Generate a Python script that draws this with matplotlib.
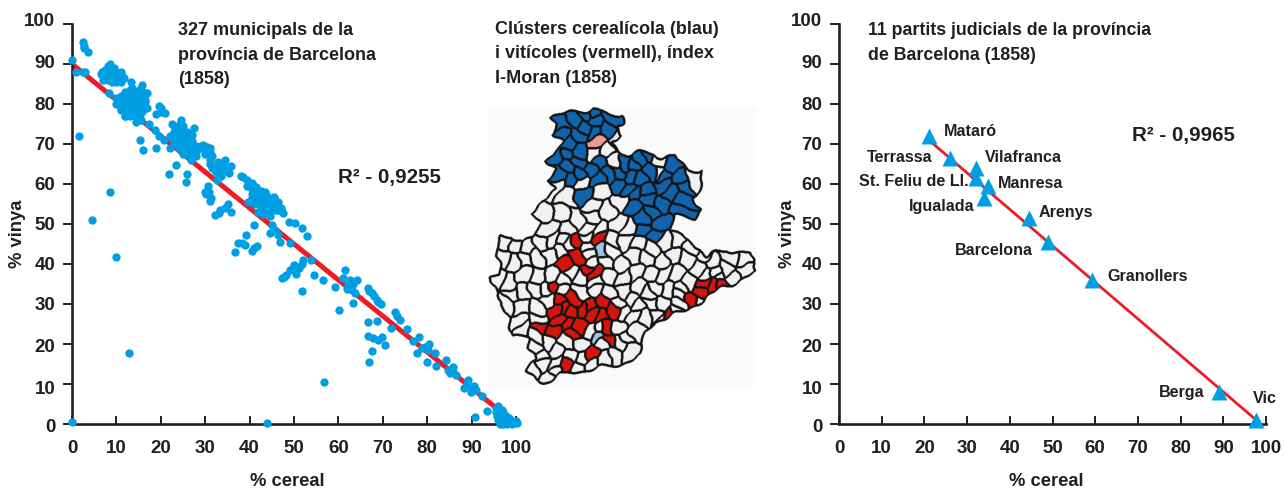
import numpy as np
import matplotlib
matplotlib.use("Agg")
import matplotlib.pyplot as plt
from matplotlib.path import Path
from matplotlib.transforms import ScaledTranslation

plt.rcParams['font.family'] = ['Liberation Sans', 'DejaVu Sans']
INK = '#231f20'
BLUE = '#009fe3'
RED = '#ed1c24'

# ---------- left panel: 327 municipalities ----------
outliers_cereal = [0, 1.6, 8.5, 4.6, 10, 12.9, 0, 44, 56.8, 90.7, 93.4]
outliers_vinya = [91, 72, 58, 51, 41.8, 17.7, 0.5, 0.2, 10.6, 1.8, 3.3]

top_cereal = [2.5, 2.6, 2.8, 3.5, 1, 2.5, 3, 8.4, 7, 7.5, 8, 8, 8, 9, 9, 9, 10, 10, 10, 11, 11, 11, 8.5, 7, 9.5, 6.6, 11.2, 7.5, 8.5, 8.5, 9.5, 9.5, 10.5, 10.5, 6.8, 11.8]
top_vinya = [95.5, 94.5, 94, 93, 88, 88, 88, 82.8, 87, 88.5, 89.5, 87, 86, 88, 86.5, 85.5, 88, 87, 85.5, 88, 87, 85.5, 90, 86, 89, 87.5, 87, 87, 88, 86.5, 87, 85.8, 87.5, 86, 88, 86.5]

blobB_cereal = [13.4, 15.7, 16.8, 17, 10, 9.8, 11.9, 14.6, 17.3, 11, 12, 13, 14, 15, 16, 11, 12, 13, 14, 15, 16, 11, 12, 13, 14, 15, 16, 12, 13, 14, 15, 13.5, 15, 11, 13, 16.5, 14.5, 15.5, 12, 13, 14, 15, 16, 10.5, 11.5, 12.5, 13.5, 14.5, 15.5, 16.5, 11.5, 12.5, 13.5, 14.5, 15.5, 12.5, 13.5, 14.5, 15.5]
blobB_vinya = [85.6, 84.8, 82.7, 79, 81.5, 80, 77, 76.5, 75, 82, 82, 82, 82, 82, 82, 80, 80, 80, 80, 80, 80, 78.5, 78.5, 78.5, 78.5, 78.5, 78.5, 77, 77, 78, 77, 84, 83.5, 79, 83.5, 80.5, 75.5, 76, 83, 83, 83, 83, 83, 81, 81, 81, 81, 81, 81, 81, 79.2, 79.2, 79.2, 79.2, 79.2, 77.8, 77.8, 77.8, 77.8]

blobC_cereal = [19.5, 20, 19, 20, 21, 18.6, 19.7, 20.8, 22, 22.5, 24.3, 26.6, 25.8, 28.1, 30.4, 26.8, 23, 24, 25, 26, 23, 24, 25, 26, 23.5, 24.5, 25.5, 24, 25, 26, 27, 28, 25, 26, 27, 28, 24.5, 27.5, 29.5, 31, 32.9, 34.4, 35.9, 35.3, 33.8, 32.6, 30.7, 31, 31.5, 33, 33.5, 29, 30, 34.5, 23, 22, 23, 24, 25, 23.5, 24.5, 25.5, 27, 24, 25, 26, 27, 25, 26, 27, 28, 26, 27, 28, 29, 30, 31, 31.5, 31, 32, 32.5, 33]
blobC_vinya = [79.5, 79, 77.5, 78, 77.7, 73.6, 72, 71, 69, 75, 75, 72.5, 71, 69.3, 69.3, 66, 73, 73, 73, 73, 71.5, 71.5, 71.5, 71, 70, 70, 70, 69, 69, 68.5, 68.5, 68.5, 67.5, 67.5, 67, 67, 76, 74, 69.7, 66, 65.5, 66, 64.5, 62.7, 63, 61, 59.5, 68, 64, 64, 62, 69, 67.5, 64.5, 70.5, 72, 74.5, 74.5, 74.5, 72.2, 72.2, 72.2, 72.2, 70.8, 70.8, 70.8, 70.8, 69.5, 69.5, 69.5, 69.5, 68, 68, 68, 69.5, 69.3, 69, 67, 65, 64, 63, 62]

near_cereal = [15.4, 15.9, 19, 23.4, 21.8, 26, 25.6, 29.9, 30.8, 31, 32.1, 33.4, 35.2, 35.9, 33, 34.5, 30.2, 31.3]
near_vinya = [71, 68.5, 69, 64.8, 62.5, 62.5, 60.4, 58, 58, 55.7, 52.3, 53.5, 55, 53, 52.8, 54, 57.5, 56.5]

blobD_cereal = [38, 38.6, 39.5, 40.5, 41.5, 42.5, 43.5, 44.5, 45.5, 46.5, 47.6, 39.7, 40.5, 41.5, 42.5, 43.5, 44.5, 45.5, 46.5, 41.9, 42.8, 43.7, 44.6, 41, 42, 43, 44, 45, 40.5, 42.5, 44, 46, 43, 44.8, 43.5, 45.5, 47, 39.5, 40.5, 41.5, 42.5, 43.5, 44.5, 45.5, 46.5, 42, 43, 44, 45, 41, 43, 44, 47]
blobD_vinya = [62, 61.7, 61, 60.2, 59.3, 58.3, 57.3, 56.3, 55.4, 54.5, 52.7, 55.6, 56.5, 56.5, 56, 55.5, 55, 54.5, 53.5, 53, 53.5, 53, 52, 58, 57.5, 56.5, 55.5, 56, 57.5, 54.5, 57, 53.5, 52.5, 53.2, 58, 56.8, 54, 59.5, 58.8, 58, 57, 56.5, 55.8, 55, 55.5, 55, 54.5, 54, 53.5, 55, 53, 52.8, 53.5]

mid_cereal = [48.9, 50.2, 51.7, 52.9, 41, 45, 44.6, 46.4, 46.8, 49.1, 39.3, 38.4, 37.3, 38.9, 36.7, 40.5, 41.7, 41, 53.9, 51.7, 52.1, 49.7, 50.4, 49, 48.3, 47.2, 54.4, 56.6, 59.2, 51.9, 61.5, 61.1, 64.3, 62.2, 63, 63.7, 63.4, 60.1, 62.6, 63.3, 61.9, 66.7, 67.5, 68.6, 69.6, 67, 68, 69, 47.8, 45.8, 51.2, 50]
mid_vinya = [50.6, 50.3, 49, 47, 49.8, 49.8, 47.7, 47.3, 45.6, 45.2, 47.2, 45.3, 45.3, 44.7, 43, 43.3, 44.5, 43.9, 41.1, 40, 41, 38.9, 37.5, 38.5, 37.3, 36.4, 37.3, 36, 34.3, 33.3, 38.5, 36.4, 36, 34.8, 33.5, 32.7, 30.3, 28.5, 36, 35, 33.8, 33.9, 32.7, 31, 30, 33.3, 32, 30.6, 36.8, 48.5, 39, 39.8]

low_cereal = [66.7, 68.8, 71.9, 72.7, 73.9, 75.4, 66.7, 67.9, 69.8, 70.5, 67.5, 67, 68.9, 76.9, 78.2, 77.8, 78.8, 80.5, 80.2, 81.7, 79.9, 81.9, 84.2, 84.7, 85.9, 86.5, 85.2, 89.2, 88.4, 89.9, 91.1, 90, 92.3, 89, 90.5, 85.8, 73.3, 79.5]
low_vinya = [25.6, 25.8, 24, 28, 26, 23.8, 22, 21.4, 21.7, 19.7, 18.2, 15.4, 21, 20.8, 21.7, 17.7, 19, 20, 18.5, 17.8, 15.6, 14.5, 16, 13.5, 14.3, 12.2, 12.8, 11, 9, 8, 8.6, 9.3, 6.9, 10, 9.5, 13, 27, 19.2]

end_cereal = [95.6, 95.6, 95.8, 96, 96, 96.3, 96.5, 96.5, 97, 97, 97, 97.5, 97.5, 98, 98, 98.5, 98.5, 99, 99, 99.5, 100.2, 100, 97.8, 96.8]
end_vinya = [4, 3, 2, 1, 4.5, 0, 2.5, 0.8, 1.5, 0, 3, 0.3, 1, 0, 1.2, 0.4, 1.4, 0, 0.7, 0.3, 0.2, 0.8, 2, 3.5]

fit_left_x = [0, 100]
fit_left_y = [90, 0]

# ---------- right panel: 11 judicial districts ----------
districts = ['Mataró', 'Terrassa', 'Vilafranca', 'St. Feliu de Ll.', 'Manresa', 'Igualada',
             'Arenys', 'Barcelona', 'Granollers', 'Berga', 'Vic']
district_cereal = [21, 26, 32, 32, 35, 34, 44.5, 49, 59.3, 89, 97.7]
district_vinya = [72, 66.5, 64, 61.5, 59.5, 56.5, 51.5, 45.5, 36, 8, 1]
label_x = [24.6, 6.6, 34.2, 4.7, 37.2, 16.4, 46.8, 27.2, 62.8, 75, 97]
label_y = [73, 66.5, 66.7, 60.5, 60, 54.5, 52.8, 43.5, 36.8, 7.8, 6.3]
fit_right_x = [21, 97.7]
fit_right_y = [71, 1]

ticks = list(range(0, 101, 10))
ytick_label_shift_px = [-1.7, -4, -1.5, 0, 1, 0, 0, 0, 0, 2, 4]

# ---------- map: province outline and municipal seat positions ----------
outline = [(218,50),(290,35),(340,28),(390,45),(430,42),(432,62),(405,75),(418,105),(395,125),(420,150),(445,165),(480,160),
 (525,158),(550,170),(590,170),(610,195),(625,210),(660,208),(660,270),(640,290),(660,325),(640,350),(575,350),(570,395),
 (610,405),(650,430),(680,470),(740,450),(815,460),(815,510),(825,520),(740,560),(670,600),(610,630),(530,665),(500,700),
 (470,770),(430,790),(380,800),(300,815),(240,825),(190,850),(145,820),(150,790),(165,775),(140,750),(150,720),(100,700),
 (90,650),(55,610),(60,580),(28,540),(60,520),(50,470),(65,405),(100,405),(130,430),(165,410),(175,360),(150,345),
 (190,300),(225,265),(200,235),(225,210),(200,180),(240,150),(250,125),(215,105),(225,75)]
blue_seats = [(240,75),(240,105),(290,55),(320,45),(350,35),(395,55),(345,65),(310,75),(375,95),(345,95),(290,105),(265,135),
 (300,150),(235,170),(265,170),(300,190),(330,210),(295,215),(260,200),(235,225),(270,235),(365,190),(385,225),(355,240),
 (315,280),(410,215),(440,190),(420,255),(445,235),(460,195),(485,180),(510,170),(510,215),(480,240),(500,270),(470,285),
 (510,300),(550,255),(545,220),(575,200),(590,235),(610,265),(575,280),(610,300),(600,335),(550,310),(520,335),(480,360),
 (540,360),(490,395),(525,410),(460,320),(445,265)]
pink_seats = [(352,128)]
pale_seats = [(365,458),(360,710)]
red_seats = [(295,418),(360,410),(290,465),(250,500),(320,505),(340,522),(222,557),(240,605),(275,600),(225,630),(185,685),
 (250,625),(270,635),(300,630),(335,615),(360,610),(395,630),(360,645),(335,640),(240,665),(265,675),(300,675),(285,705),
 (225,690),(330,760),(260,800),(635,597),(676,548),(703,560),(727,553),(670,575),(565,645),(380,690),(390,725)]
white_seats = [(350,160),(385,155),(410,120),(400,178),(300,245),(225,265),(365,270),(430,300),(640,235),(535,175),(538,215),
 (260,295),(340,320),(195,335),(240,340),(290,360),(330,350),(380,340),(410,370),(200,385),(265,390),(320,385),(440,385),
 (225,420),(80,425),(110,440),(145,445),(190,430),(250,425),(400,420),(440,420),(480,430),(520,440),(560,430),(600,420),
 (635,440),(670,465),(70,470),(100,480),(130,480),(165,470),(210,460),(245,450),(330,460),(375,490),(420,490),(460,470),
 (500,480),(540,480),(580,470),(620,480),(690,495),(750,470),(790,480),(790,510),(740,510),(650,500),(50,540),(90,550),
 (130,530),(175,530),(255,545),(300,530),(390,530),(430,530),(470,520),(510,520),(550,520),(590,530),(630,545),(680,525),
 (760,530),(720,535),(100,580),(75,610),(130,575),(170,570),(205,600),(310,570),(390,580),(440,570),(480,565),(530,560),
 (570,570),(610,565),(120,625),(170,630),(115,665),(170,655),(430,630),(470,620),(510,610),(545,610),(590,610),(490,650),
 (530,640),(130,690),(470,695),(420,680),(345,690),(440,710),(165,745),(225,755),(260,730),(300,730),(190,790),(225,790),
 (165,810),(215,825),(300,805),(400,760),(440,750),(370,775),(300,770),(270,770),(180,760),(330,795),(420,725),(350,545),
 (325,435),(395,455),(265,435),(330,485),(215,530),(270,525),(205,560),(250,570),(350,570),
 (175,705),(205,725),(600,590),(580,635),(545,650),(355,400),(320,410),(230,815),(370,735),(360,690),
 (460,650),(505,580),(455,600),(410,605),(655,600),(700,520)]

W, H = 1284, 491
fig = plt.figure(figsize=(W / 100, H / 100), dpi=100, facecolor='white')


def axes_px(x0, x1, y_top, y_bot):
    return fig.add_axes([x0 / W, 1 - y_bot / H, (x1 - x0) / W, (y_bot - y_top) / H])


def style(ax):
    ax.set_xlim(0, 100)
    ax.set_ylim(0, 100)
    ax.set_xticks(ticks)
    ax.set_yticks(ticks)
    for s in ('top', 'right'):
        ax.spines[s].set_visible(False)
    for s in ('left', 'bottom'):
        ax.spines[s].set_linewidth(1.9)
        ax.spines[s].set_color(INK)
    ax.tick_params(axis='x', direction='in', length=6, width=1.4, color=INK, pad=11.5,
                   labelsize=13.5, labelcolor=INK)
    ax.tick_params(axis='y', direction='out', length=6.5, width=1.4, color=INK, pad=5.5,
                   labelsize=13.5, labelcolor=INK)
    for t in ax.get_xticklabels() + ax.get_yticklabels():
        t.set_fontweight('bold')
    for t, shift in zip(ax.get_yticklabels(), ytick_label_shift_px):
        t.set_transform(t.get_transform() + ScaledTranslation(0, shift / 100, fig.dpi_scale_trans))
    ax.patch.set_alpha(0)


AXIS_FONT = 13.2
TITLE_FONT = 13
TITLE_SPACING = 1.54

# left
ax1 = axes_px(72, 516, 24, 424)
style(ax1)
ax1.plot(fit_left_x, fit_left_y, color=RED, lw=3.6, solid_capstyle='butt', zorder=2)
groups = [(outliers_cereal, outliers_vinya), (top_cereal, top_vinya), (blobB_cereal, blobB_vinya),
          (blobC_cereal, blobC_vinya), (near_cereal, near_vinya), (blobD_cereal, blobD_vinya),
          (mid_cereal, mid_vinya), (low_cereal, low_vinya), (end_cereal, end_vinya)]
for gx, gy in groups:
    ax1.scatter(gx, gy, s=36, color=BLUE, linewidths=0, zorder=3, clip_on=False)
fig.text(178 / W, 1 - 55 / H, '327 municipals de la\nprovíncia de Barcelona\n(1858)',
         fontsize=TITLE_FONT, fontweight='bold', color=INK, va='center', ha='left', linespacing=TITLE_SPACING)
fig.text(338 / W, 1 - 178 / H, 'R² - 0,9255', fontsize=14.8, fontweight='bold', color=INK, va='center')
fig.text(287 / W, 1 - 482 / H, '% cereal', fontsize=AXIS_FONT, fontweight='bold', color=INK, va='center', ha='center')
fig.text(17 / W, 1 - 234 / H, '% vinya', fontsize=AXIS_FONT, fontweight='bold', color=INK, va='center', ha='center', rotation=90)

# right
ax2 = axes_px(839, 1266, 24, 424)
style(ax2)
ax2.plot(fit_right_x, fit_right_y, color=RED, lw=2.0, zorder=2)
ax2.scatter(district_cereal, district_vinya, marker='^', s=132, color=BLUE, linewidths=0, zorder=3, clip_on=False)
for name, lx, ly in zip(districts, label_x, label_y):
    ax2.text(lx, ly, name, fontsize=11.6, fontweight='bold', color=INK, va='center', ha='left')
fig.text(868 / W, 1 - 43 / H, '11 partits judicials de la província\nde Barcelona (1858)', fontsize=12.8,
         fontweight='bold', color=INK, va='center', ha='left', linespacing=TITLE_SPACING)
fig.text(1132 / W, 1 - 135 / H, 'R² - 0,9965', fontsize=14.8, fontweight='bold', color=INK, va='center')
fig.text(1046 / W, 1 - 482 / H, '% cereal', fontsize=AXIS_FONT, fontweight='bold', color=INK, va='center', ha='center')
fig.text(787 / W, 1 - 234 / H, '% vinya', fontsize=AXIS_FONT, fontweight='bold', color=INK, va='center', ha='center', rotation=90)

# map title
fig.text(495 / W, 1 - 54 / H, 'Clústers cerealícola (blau)\ni vitícoles (vermell), índex\nI-Moran (1858)', fontsize=TITLE_FONT,
         fontweight='bold', color=INK, va='center', ha='left', linespacing=TITLE_SPACING)

# map: each place takes the ground nearest its seat, clipped to the province outline
palette = {'blue': '#0f64ab', 'red': '#d8140c', 'white': '#f2f2f2', 'pale': '#9cc5e4', 'pink': '#ee9a9a'}
seats, colours = [], []
for lst, c in ((blue_seats, 'blue'), (red_seats, 'red'), (white_seats, 'white'), (pale_seats, 'pale'), (pink_seats, 'pink')):
    seats += lst
    colours += [palette[c]] * len(lst)
seats = np.array(seats, dtype=float)
step = 1.5
xs = np.arange(0, 870, step)
ys = np.arange(0, 900, step)
gx, gy = np.meshgrid(xs, ys)
# gentle bend so borders wander like real boundaries rather than straight cell walls
wx = gx + 6 * np.sin(gy / 21) + 3.5 * np.sin((gx + gy) / 10)
wy = gy + 6 * np.sin(gx / 18) + 3.5 * np.sin((gx - gy) / 12)
best = np.full(gx.shape, np.inf, dtype=np.float32)
lab = np.zeros(gx.shape, dtype=np.int32)
for i, (sx, sy) in enumerate(seats):
    d = ((wx - sx) ** 2 + (wy - sy) ** 2).astype(np.float32)
    m = d < best
    best[m] = d[m]
    lab[m] = i
inside = Path(outline).contains_points(np.c_[wx.ravel(), wy.ravel()]).reshape(gx.shape)
lab[~inside] = -1
edge = np.zeros(lab.shape, dtype=bool)
edge[:-1, :] |= lab[:-1, :] != lab[1:, :]
edge[:, :-1] |= lab[:, :-1] != lab[:, 1:]
for _ in range(2):
    grown = edge.copy()
    grown[1:, :] |= edge[:-1, :]
    grown[:, 1:] |= edge[:, :-1]
    grown[:-1, :] |= edge[1:, :]
    grown[:, :-1] |= edge[:, 1:]
    edge = grown
rgb = np.array([matplotlib.colors.to_rgb(c) for c in colours] + [(0.984, 0.984, 0.988)])
img = rgb[lab]
img[edge] = matplotlib.colors.to_rgb('#151515')
# panel background only spans the pale rectangle behind the map
bg = (gx < 24) | (gx > 828) | (gy < 21) | (gy > 855)
rgba = np.dstack([img, np.where(bg, 0.0, 1.0)])
axm = axes_px(480, 770, 100, 400)
axm.imshow(rgba, extent=(0, 870, 900, 0), interpolation='antialiased', aspect='auto', zorder=1)
axm.axis('off')

fig.savefig('out.png', dpi=100, facecolor='white')
